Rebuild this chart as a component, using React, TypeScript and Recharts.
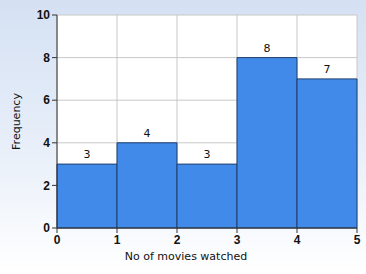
import React from 'react';
import { BarChart, Bar, XAxis, YAxis, CartesianGrid, LabelList, Label } from 'recharts';

const binMids = [0.5, 1.5, 2.5, 3.5, 4.5];
const frequency = [3, 4, 3, 8, 7];
const xTicks = [0, 1, 2, 3, 4, 5];
const yTicks = [0, 2, 4, 6, 8, 10];

const data = binMids.map((x, i) => ({ x, freq: frequency[i] }));

const tickStyle = { fontSize: 12, fontWeight: 700, fill: '#111', fontFamily: '"Liberation Sans", Arial, sans-serif' };
const textStyle = { fontSize: 11, fill: '#111', fontFamily: '"DejaVu Sans", sans-serif' };

const App: React.FC = () => {
  return (
    <div
      style={{
        position: 'absolute',
        left: 0,
        top: 0,
        width: 366,
        height: 274,
        background: 'linear-gradient(to bottom, #d5e1f3 0%, #e4ecf8 45%, #ffffff 100%)',
      }}
    >
      <BarChart
        width={366}
        height={274}
        data={data}
        margin={{ top: 15, right: 9, left: 0, bottom: 6 }}
        barCategoryGap={0}
        barGap={0}
      >
        <CartesianGrid stroke="#c8c8c8" fill="#ffffff" />
        <XAxis
          dataKey="x"
          type="number"
          domain={[0, 5]}
          ticks={xTicks}
          height={40}
          tick={tickStyle}
          tickLine={{ stroke: '#333' }}
          axisLine={{ stroke: '#333' }}
          tickSize={5}
        >
          <Label value="No of movies watched" position="insideBottom" offset={8} dx={-21} style={textStyle} />
        </XAxis>
        <YAxis
          domain={[0, 10]}
          ticks={yTicks}
          width={57}
          tick={tickStyle}
          tickLine={{ stroke: '#333' }}
          axisLine={{ stroke: '#333' }}
          tickSize={5}
        >
          <Label
            value="Frequency"
            angle={-90}
            position="insideLeft"
            offset={16}
            style={{ ...textStyle, textAnchor: 'middle' }}
          />
        </YAxis>
        <Bar dataKey="freq" fill="#418aea" stroke="#1f3e6b" strokeWidth={1} isAnimationActive={false}>
          <LabelList dataKey="freq" position="top" offset={6} style={textStyle} />
        </Bar>
      </BarChart>
    </div>
  );
};

export default App;
